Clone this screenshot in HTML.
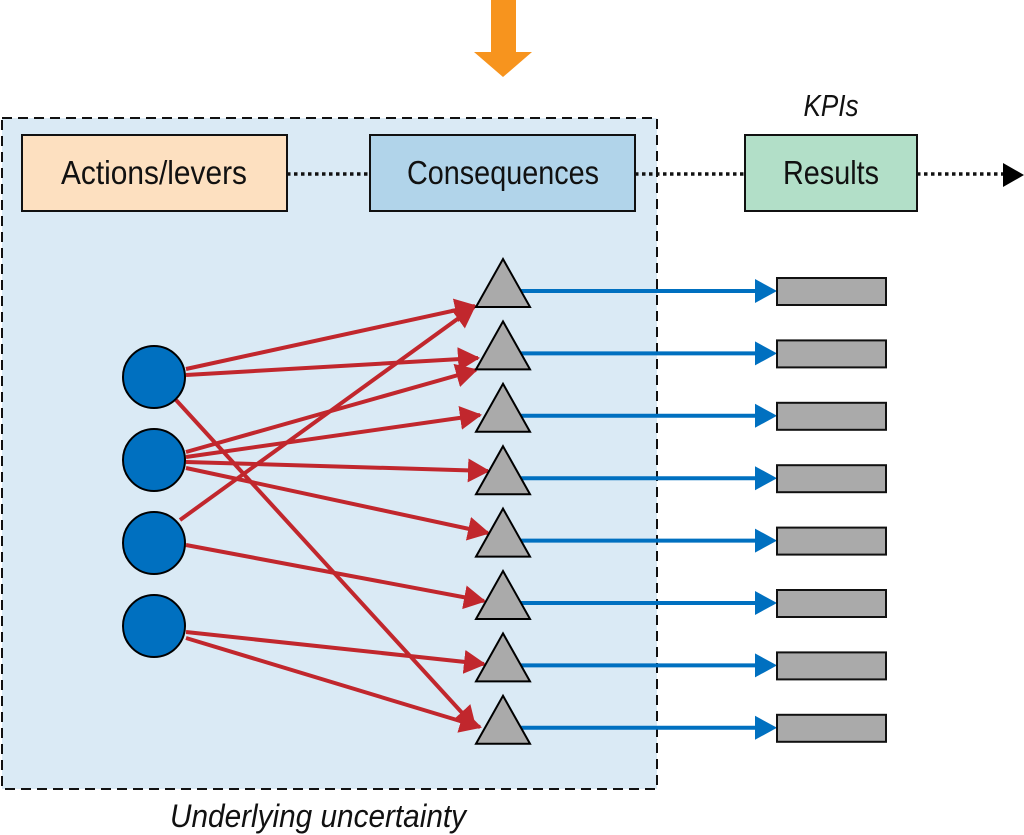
<!DOCTYPE html>
<html><head><meta charset="utf-8"><style>
html,body{margin:0;padding:0;background:#fff;}
svg{display:block;font-family:"Liberation Sans",sans-serif;}
</style></head><body>
<svg width="1024" height="835" viewBox="0 0 1024 835" xmlns="http://www.w3.org/2000/svg">
<defs>
<marker id="r" markerWidth="22" markerHeight="24" refX="20" refY="12" orient="auto" markerUnits="userSpaceOnUse" viewBox="0 0 22 24"><path d="M0,0 L22,12 L0,24 z" fill="#c1272d"/></marker>
</defs>
<rect x="2" y="118" width="655" height="671" fill="#daeaf5" stroke="#111" stroke-width="2" stroke-dasharray="10,6"/>
<polygon points="491,0 516,0 516,52 532,52 503,77 474,52 491,52" fill="#f7941e"/>
<line x1="287" y1="174" x2="370" y2="174" stroke="#111" stroke-width="3.5" stroke-dasharray="3.5,3.5"/>
<line x1="635" y1="174" x2="745" y2="174" stroke="#111" stroke-width="3.5" stroke-dasharray="3.5,3.5"/>
<line x1="917" y1="174" x2="1004" y2="174" stroke="#111" stroke-width="3.5" stroke-dasharray="3.5,3.5"/>
<polygon points="1003,163 1024,175 1003,187" fill="#000"/>
<rect x="22" y="135" width="265" height="76" fill="#fde0c0" stroke="#111" stroke-width="2"/>
<rect x="370" y="135" width="265" height="76" fill="#b1d4ea" stroke="#111" stroke-width="2"/>
<rect x="745" y="135" width="172" height="76" fill="#b2dfc8" stroke="#111" stroke-width="2"/>
<text x="154" y="184" font-size="33" text-anchor="middle" fill="#111" textLength="186" lengthAdjust="spacingAndGlyphs">Actions/levers</text>
<text x="503" y="184" font-size="33" text-anchor="middle" fill="#111" textLength="192" lengthAdjust="spacingAndGlyphs">Consequences</text>
<text x="831" y="184" font-size="33" text-anchor="middle" fill="#111" textLength="96" lengthAdjust="spacingAndGlyphs">Results</text>
<text x="831" y="116" font-size="31" font-style="italic" text-anchor="middle" fill="#111" textLength="55" lengthAdjust="spacingAndGlyphs">KPIs</text>
<text x="318" y="827" font-size="32" font-style="italic" text-anchor="middle" fill="#111" textLength="296" lengthAdjust="spacingAndGlyphs">Underlying uncertainty</text>
<g stroke="#c1272d" stroke-width="4" fill="none" marker-end="url(#r)">
<line x1="186" y1="369" x2="475" y2="306"/>
<line x1="186" y1="375" x2="478" y2="358"/>
<line x1="176" y1="400" x2="475" y2="727"/>
<line x1="186" y1="452" x2="476" y2="370"/>
<line x1="186" y1="457" x2="480" y2="415"/>
<line x1="186" y1="462" x2="488" y2="471"/>
<line x1="186" y1="468" x2="488" y2="533"/>
<line x1="180" y1="520" x2="474" y2="307"/>
<line x1="186" y1="545" x2="484" y2="601"/>
<line x1="186" y1="632" x2="484" y2="664"/>
<line x1="186" y1="638" x2="480" y2="727"/>
</g>
<g fill="#0070c0" stroke="#000" stroke-width="2">
<circle cx="154" cy="377" r="31"/>
<circle cx="154" cy="460" r="31"/>
<circle cx="154" cy="543" r="31"/>
<circle cx="154" cy="626" r="31"/>
</g>
<g stroke="#0070c0" stroke-width="4">
<line x1="520" y1="291" x2="760" y2="291"/>
<line x1="520" y1="353.4" x2="760" y2="353.4"/>
<line x1="520" y1="415.8" x2="760" y2="415.8"/>
<line x1="520" y1="478.2" x2="760" y2="478.2"/>
<line x1="520" y1="540.6" x2="760" y2="540.6"/>
<line x1="520" y1="603" x2="760" y2="603"/>
<line x1="520" y1="665.4" x2="760" y2="665.4"/>
<line x1="520" y1="727.8" x2="760" y2="727.8"/>
</g>
<g fill="#0070c0">
<polygon points="755,279 777,291 755,303"/>
<polygon points="755,341.4 777,353.4 755,365.4"/>
<polygon points="755,403.8 777,415.8 755,427.8"/>
<polygon points="755,466.2 777,478.2 755,490.2"/>
<polygon points="755,528.6 777,540.6 755,552.6"/>
<polygon points="755,591 777,603 755,615"/>
<polygon points="755,653.4 777,665.4 755,677.4"/>
<polygon points="755,715.8 777,727.8 755,739.8"/>
</g>
<g fill="#aaa" stroke="#111" stroke-width="2">
<rect x="777" y="278" width="109" height="27"/>
<rect x="777" y="340.4" width="109" height="27"/>
<rect x="777" y="402.8" width="109" height="27"/>
<rect x="777" y="465.2" width="109" height="27"/>
<rect x="777" y="527.6" width="109" height="27"/>
<rect x="777" y="590" width="109" height="27"/>
<rect x="777" y="652.4" width="109" height="27"/>
<rect x="777" y="714.8" width="109" height="27"/>
</g>
<g fill="#aaa" stroke="#000" stroke-width="2">
<polygon points="503,259 530,307 476,307"/>
<polygon points="503,321.4 530,369.4 476,369.4"/>
<polygon points="503,383.8 530,431.8 476,431.8"/>
<polygon points="503,446.2 530,494.2 476,494.2"/>
<polygon points="503,508.6 530,556.6 476,556.6"/>
<polygon points="503,571 530,619 476,619"/>
<polygon points="503,633.4 530,681.4 476,681.4"/>
<polygon points="503,695.8 530,743.8 476,743.8"/>
</g>
</svg>
</body></html>
